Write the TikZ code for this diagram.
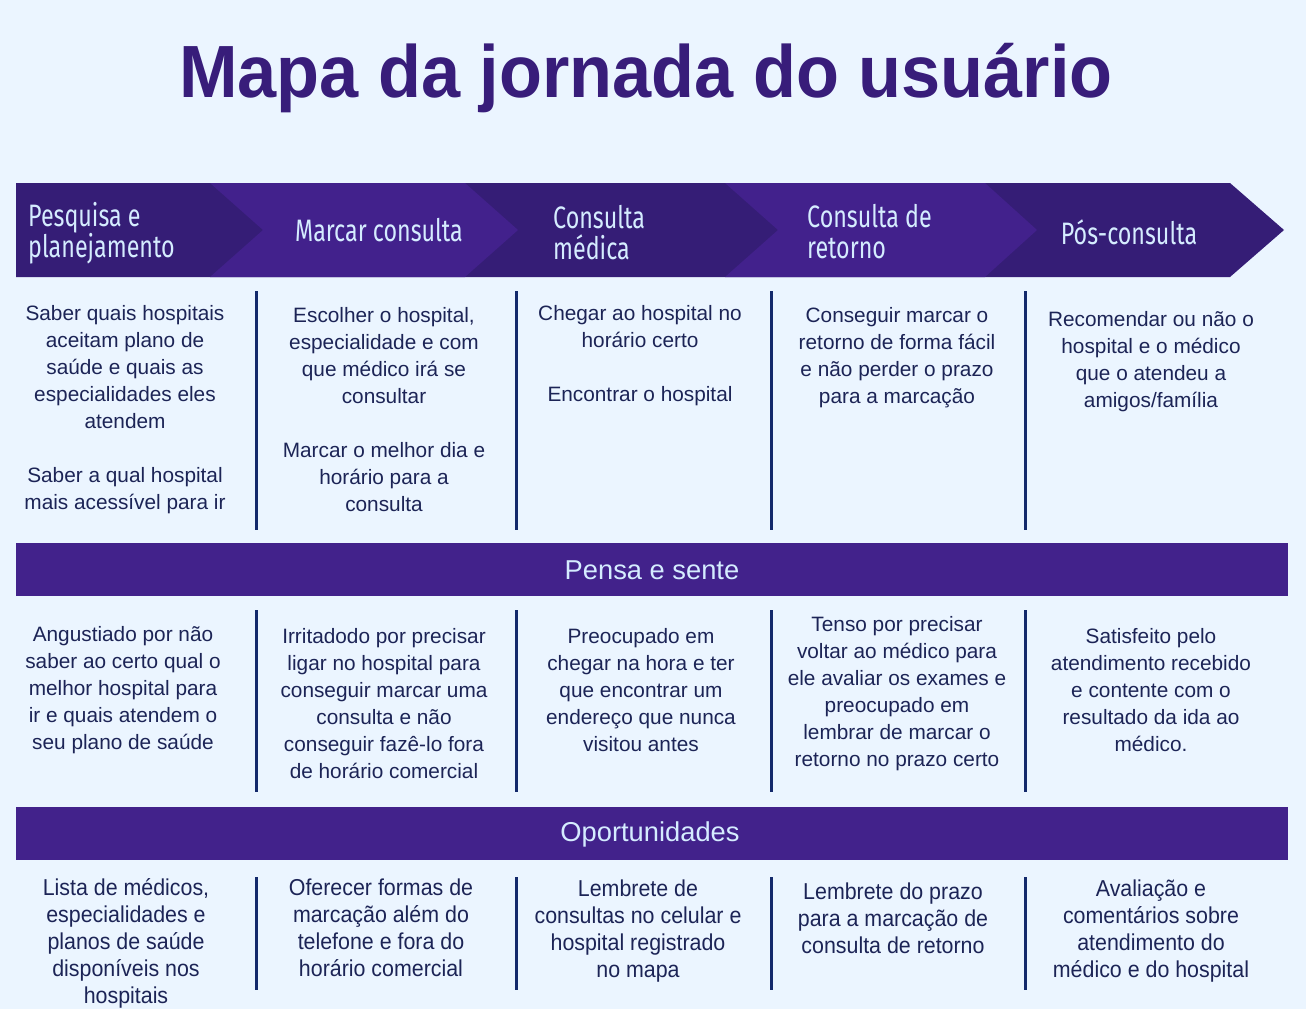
\documentclass[tikz,border=0pt]{standalone}
\usepackage{fontspec}
\setmainfont{Liberation Sans}
\newfontfamily\hdrfont[FakeStretch=0.75]{Fira Sans}
\newfontfamily\condfont[FakeStretch=0.93]{Liberation Sans}
\newfontfamily\titlefont[FakeStretch=0.95]{Liberation Sans}
\definecolor{bg}{HTML}{EBF5FF}
\definecolor{titlec}{HTML}{381D7A}
\definecolor{chevdark}{HTML}{351D76}
\definecolor{chevlight}{HTML}{42218C}
\definecolor{barc}{HTML}{42228B}
\definecolor{hdrtxt}{HTML}{D5ECFF}
\definecolor{bodytxt}{HTML}{1C2456}
\definecolor{divc}{HTML}{13296B}
\begin{document}
\begin{tikzpicture}[x=1pt,y=-1pt,
  body/.style={text=bodytxt, font=\fontsize{20.8}{27}\selectfont, align=center, inner sep=0pt},
  cond/.style={text=bodytxt, font=\condfont\fontsize{23}{27}\selectfont, align=center, inner sep=0pt},
  hdr/.style={text=hdrtxt, font=\hdrfont\fontsize{31}{31}\selectfont, inner sep=0pt},
  bartxt/.style={text=hdrtxt, font=\fontsize{27.3}{30}\selectfont, inner sep=0pt},
  divider/.style={draw=divc, line width=3pt}]
\useasboundingbox (0,0) rectangle (1306,1009);
\fill[bg] (0,0) rectangle (1306,1009);

% title
\node[anchor=base, text=titlec, font=\titlefont\fontsize{74}{80}\selectfont\bfseries, inner sep=0pt] (title) at (646,97) {Mapa da jornada do usuário};

% chevrons
\fill[chevdark] (16,183) -- (1230,183) -- (1284,230) -- (1230,277) -- (16,277) -- cycle;
\fill[chevlight] (210,183) -- (465,183) -- (518,230) -- (465,277) -- (210,277) -- (263,230) -- cycle;
\fill[chevlight] (725,183) -- (985,183) -- (1037,230) -- (985,277) -- (725,277) -- (778,230) -- cycle;

\node[hdr, anchor=west, align=left] (h1) at (28,233) {Pesquisa e\\planejamento};
\node[hdr] (h2) at (379,230) {Marcar consulta};
\node[hdr, anchor=west, align=left] (h3) at (553,233) {Consulta\\médica};
\node[hdr, anchor=west, align=left] (h4) at (807,232) {Consulta de\\retorno};
\node[hdr] (h5) at (1129,232) {Pós-consulta};

% section 1
\node[body] (c1) at (125,410) {Saber quais hospitais\\aceitam plano de\\saúde e quais as\\especialidades eles\\atendem\\[27pt]Saber a qual hospital\\mais acessível para ir};
\node[body] (c2) at (384,410) {Escolher o hospital,\\especialidade e com\\que médico irá se\\consultar\\[27pt]Marcar o melhor dia e\\horário para a\\consulta};
\node[body] (c3) at (640,356) {Chegar ao hospital no\\horário certo\\[27pt]Encontrar o hospital};
\node[body] (c4) at (897,358) {Conseguir marcar o\\retorno de forma fácil\\e não perder o prazo\\para a marcação};
\node[body] (c5) at (1151,362) {Recomendar ou não o\\hospital e o médico\\que o atendeu a\\amigos/família};

\foreach \x in {256,516,771,1025} {
  \draw[divider] (\x,291) -- (\x,530);
  \draw[divider] (\x,610) -- (\x,792);
  \draw[divider] (\x,877) -- (\x,990);
}

% bar 1
\fill[barc] (16,543) rectangle (1288,596);
\node[bartxt] (b1) at (652,570) {Pensa e sente};

% section 2
\node[body] (d1) at (123,690) {Angustiado por não\\saber ao certo qual o\\melhor hospital para\\ir e quais atendem o\\seu plano de saúde};
\node[body] (d2) at (384,703.5) {Irritadodo por precisar\\ligar no hospital para\\conseguir marcar uma\\consulta e não\\conseguir fazê-lo fora\\de horário comercial};
\node[body] (d3) at (641,690) {Preocupado em\\chegar na hora e ter\\que encontrar um\\endereço que nunca\\visitou antes};
\node[body] (d4) at (897,693.5) {Tenso por precisar\\voltar ao médico para\\ele avaliar os exames e\\preocupado em\\lembrar de marcar o\\retorno no prazo certo};
\node[body] (d5) at (1151,690) {Satisfeito pelo\\atendimento recebido\\e contente com o\\resultado da ida ao\\médico.};

% bar 2
\fill[barc] (16,807) rectangle (1288,860);
\node[bartxt] (b2) at (650,834) {Oportunidades};

% section 3
\node[cond] (e1) at (126,943) {Lista de médicos,\\especialidades e\\planos de saúde\\disponíveis nos\\hospitais};
\node[cond] (e2) at (381,927.5) {Oferecer formas de\\marcação além do\\telefone e fora do\\horário comercial};
\node[cond] (e3) at (638,931.5) {Lembrete de\\consultas no celular e\\hospital registrado\\no mapa};
\node[cond] (e4) at (893,918) {Lembrete do prazo\\para a marcação de\\consulta de retorno};
\node[cond] (e5) at (1151,931.5) {Avaliação e\\comentários sobre\\atendimento do\\médico e do hospital};
\end{tikzpicture}
\end{document}
